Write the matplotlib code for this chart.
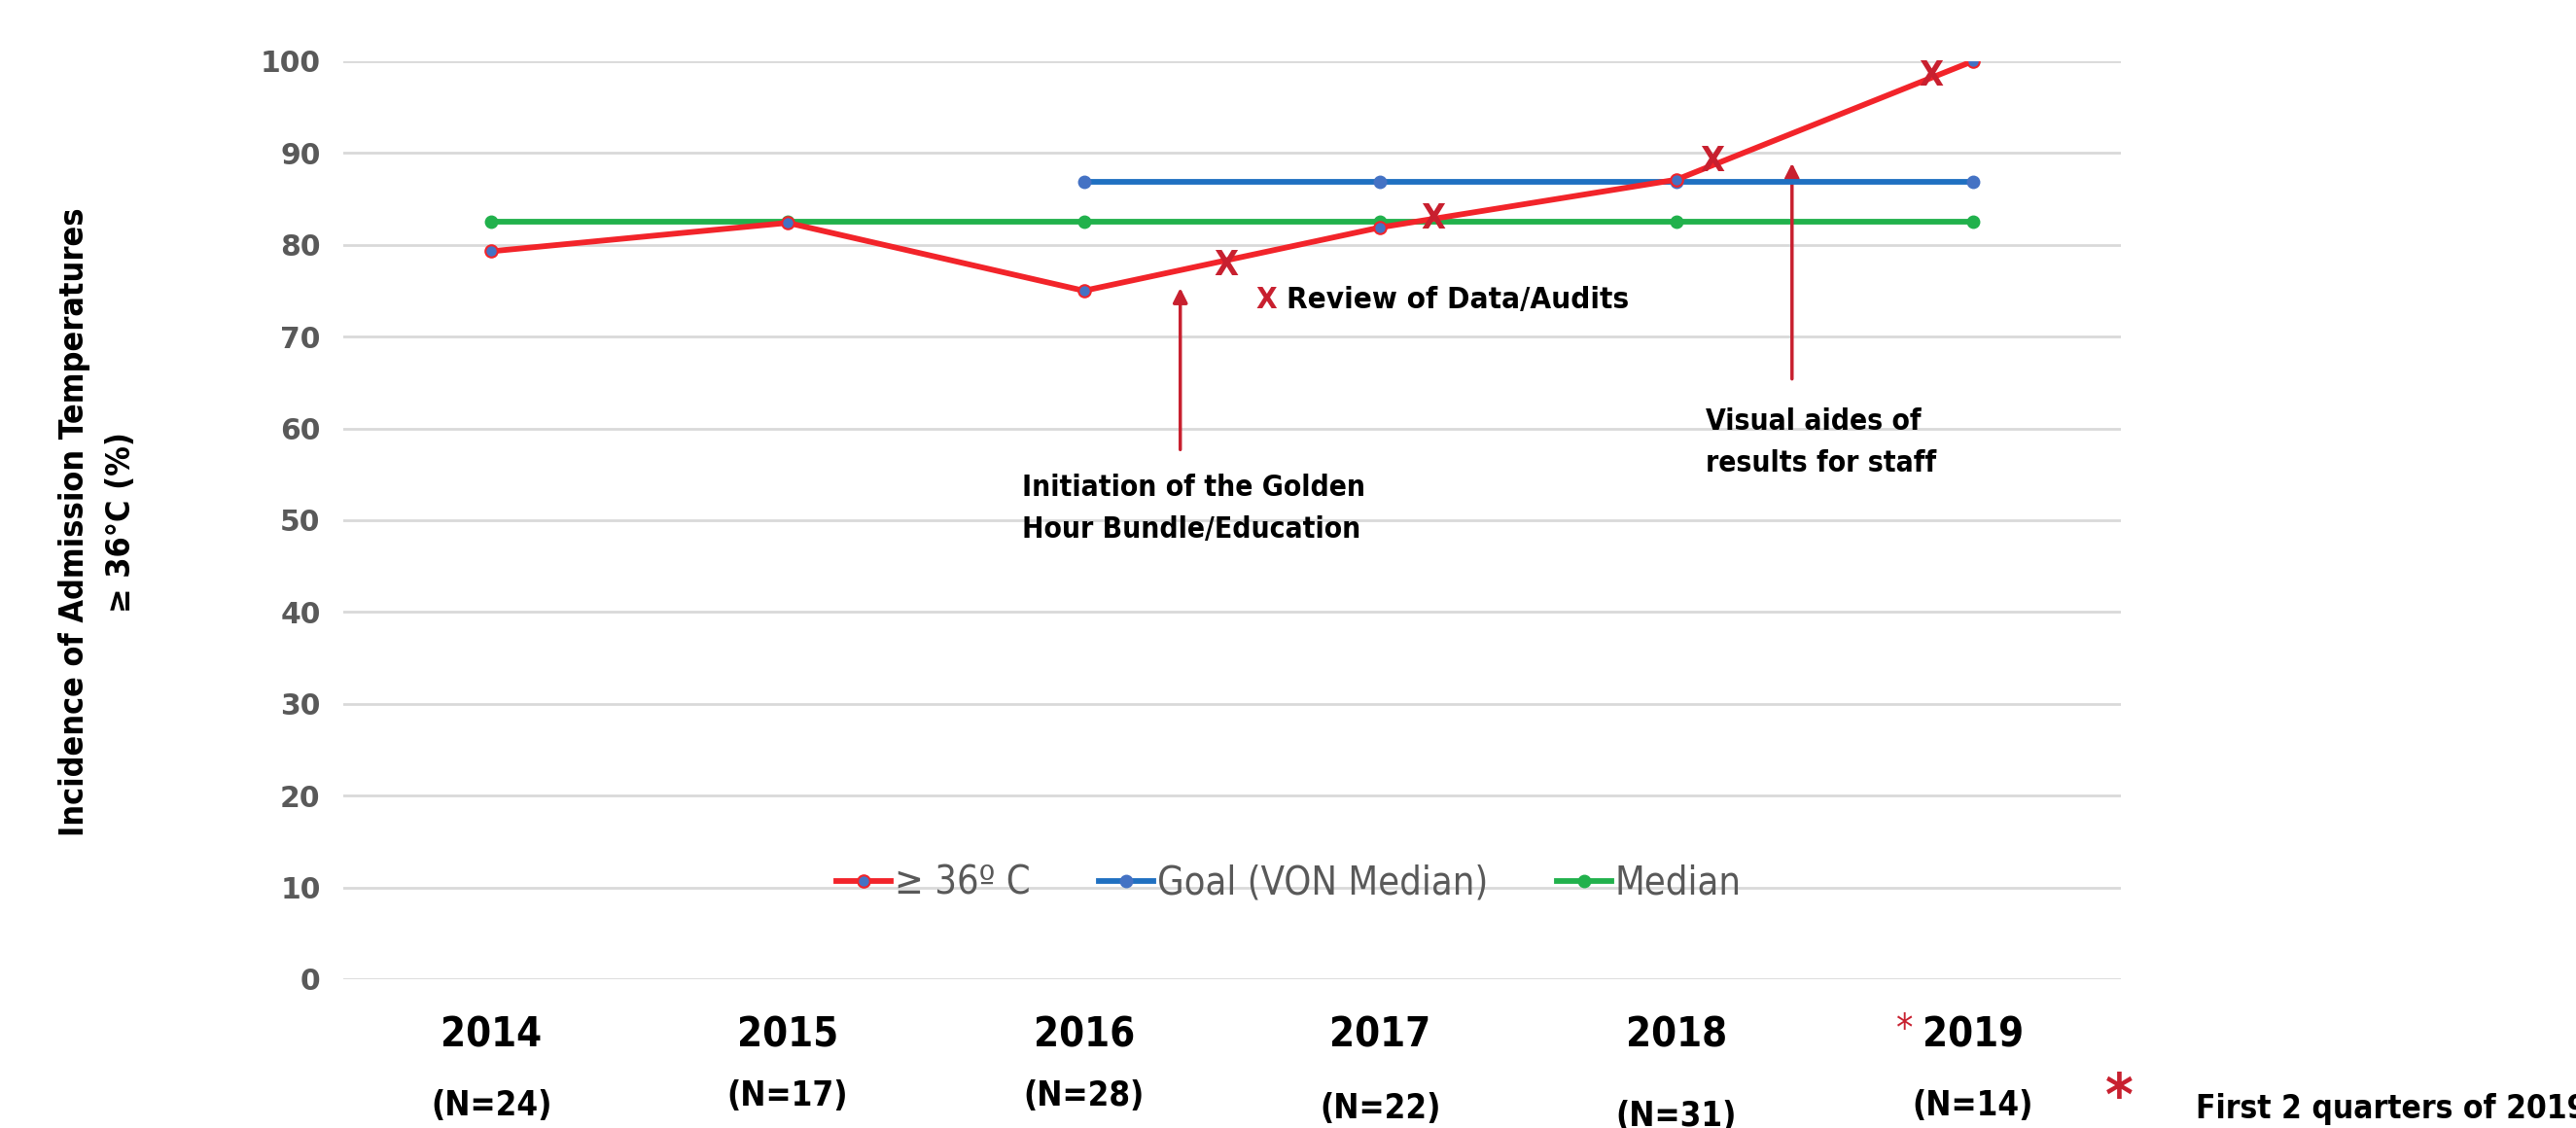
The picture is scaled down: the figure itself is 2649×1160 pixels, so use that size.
import matplotlib.pyplot as plt
from matplotlib import font_manager as fm
import numpy as np

# values
years = ['2014', '2015', '2016', '2017', '2018', '2019']
n_counts = ['(N=24)', '(N=17)', '(N=28)', '(N=22)', '(N=31)', '(N=14)']
pct_ge36 = [79.3, 82.4, 75.0, 81.9, 87.1, 100.0]
goal_von = [np.nan, np.nan, 86.9, 86.9, 86.9, 86.9]
median = [82.5, 82.5, 82.5, 82.5, 82.5, 82.5]

# "X" marks = review of data/audits
review_x = [2.48, 3.18, 4.12, 4.86]
review_y = [77.8, 82.8, 89.1, 98.4]

# vertical offsets of the (N=..) labels, axes fraction
n_offsets = [-0.138, -0.127, -0.127, -0.141, -0.149, -0.138]

# the original uses Calibri; use a condensed face where there is one
fonts = fm.fontManager.ttflist
has_cond = any(f.name == 'DejaVu Sans' and f.stretch == 'condensed' for f in fonts)
k = 1.0 if has_cond else 0.9
narrow = dict(family='DejaVu Sans', stretch='condensed')

red = '#f2242a'
dark_red = '#c8202f'

fig = plt.figure(figsize=(26.49, 11.6), dpi=100)
ax = fig.add_axes([0.1333, 0.1319, 0.6900, 0.8138])
x = np.arange(len(years))

ax.plot(x, median, color='#21b14c', lw=4.2, marker='o', ms=9,
        mfc='#21b14c', mec='#21b14c', label='Median', zorder=3)
ax.plot(x, goal_von, color='#1f70c1', lw=4.2, marker='o', ms=9,
        mfc='#4472c4', mec='#4472c4', label='Goal (VON Median)', zorder=4)
ax.plot(x, pct_ge36, color=red, lw=4.2, marker='o', ms=9,
        mfc='#4472c4', mec=red, mew=1.5, label='≥ 36º C', zorder=5)

ax.set_xlim(-0.5, 5.5)
ax.set_ylim(0, 100)
ax.set_yticks(range(0, 101, 10))
ax.grid(axis='y', color='#d9d9d9', lw=2)
ax.set_axisbelow(True)
for s in ax.spines.values():
    s.set_visible(False)
ax.tick_params(length=0)
ax.tick_params(axis='y', pad=17, labelsize=21.5, labelcolor='#595959')
for t in ax.get_yticklabels():
    t.set_fontweight('bold')

ax.set_xticks(x, years)
ax.tick_params(axis='x', pad=26)
for t in ax.get_xticklabels():
    t.set_fontfamily(narrow['family'])
    t.set_fontstretch(narrow['stretch'])
    t.set_fontweight('bold')
    t.set_fontsize(30 * k)

for i, lab in enumerate(n_counts):
    ax.text(x[i], n_offsets[i], lab, transform=ax.get_xaxis_transform(),
            ha='center', va='center', fontsize=25 * k, fontweight='bold',
            **narrow)
ax.text(4.77, -0.055, '*', transform=ax.get_xaxis_transform(), ha='center',
        va='center', fontsize=28, color=dark_red, **narrow)

# review markers
for rx, ry in zip(review_x, review_y):
    ax.text(rx, ry, 'X', ha='center', va='center', fontsize=26 * k,
            fontweight='bold', color=dark_red, zorder=6, **narrow)
ax.text(2.58, 74.0, 'X', ha='left', va='center', fontsize=22.5 * k,
        fontweight='bold', color=dark_red, **narrow)
ax.text(2.683, 74.0, 'Review of Data/Audits', ha='left', va='center',
        fontsize=22.5 * k, fontweight='bold', **narrow)

# intervention arrows
arrow = dict(arrowstyle='-|>', color=dark_red, lw=2.5, mutation_scale=22)
ax.annotate('', xy=(2.325, 75.6), xytext=(2.325, 57.4), arrowprops=arrow)
ax.annotate('', xy=(4.39, 89.2), xytext=(4.39, 65.1), arrowprops=arrow)
ax.text(1.79, 51.3, 'Initiation of the Golden\nHour Bundle/Education',
        ha='left', va='center', fontsize=21.5 * k, fontweight='bold',
        linespacing=1.6, **narrow)
ax.text(4.10, 58.5, 'Visual aides of\nresults for staff', ha='left',
        va='center', fontsize=21.5 * k, fontweight='bold', linespacing=1.6,
        **narrow)

h, l = ax.get_legend_handles_labels()
ax.legend(h[::-1], l[::-1], loc='center', bbox_to_anchor=(0.532, 0.104),
          ncol=3, frameon=False, labelcolor='#595959',
          prop=dict(size=28.5 * k, **narrow), handlelength=1.4,
          handletextpad=0.1, columnspacing=1.8)

fig.text(0.038, 0.537, 'Incidence of Admission Temperatures\n≥ 36°C (%)',
         rotation=90, ha='center', va='center', multialignment='center',
         fontsize=24.5 * k, fontweight='bold', linespacing=1.6, **narrow)

fig.text(0.8226, 0.025, '*', ha='center', va='center', fontsize=44,
         color=dark_red, fontweight='bold', **narrow)
fig.text(0.8524, 0.0172, 'First 2 quarters of 2019', ha='left',
         va='center', fontsize=24 * k, fontweight='bold', **narrow)

fig.savefig('out.png', dpi=100)
